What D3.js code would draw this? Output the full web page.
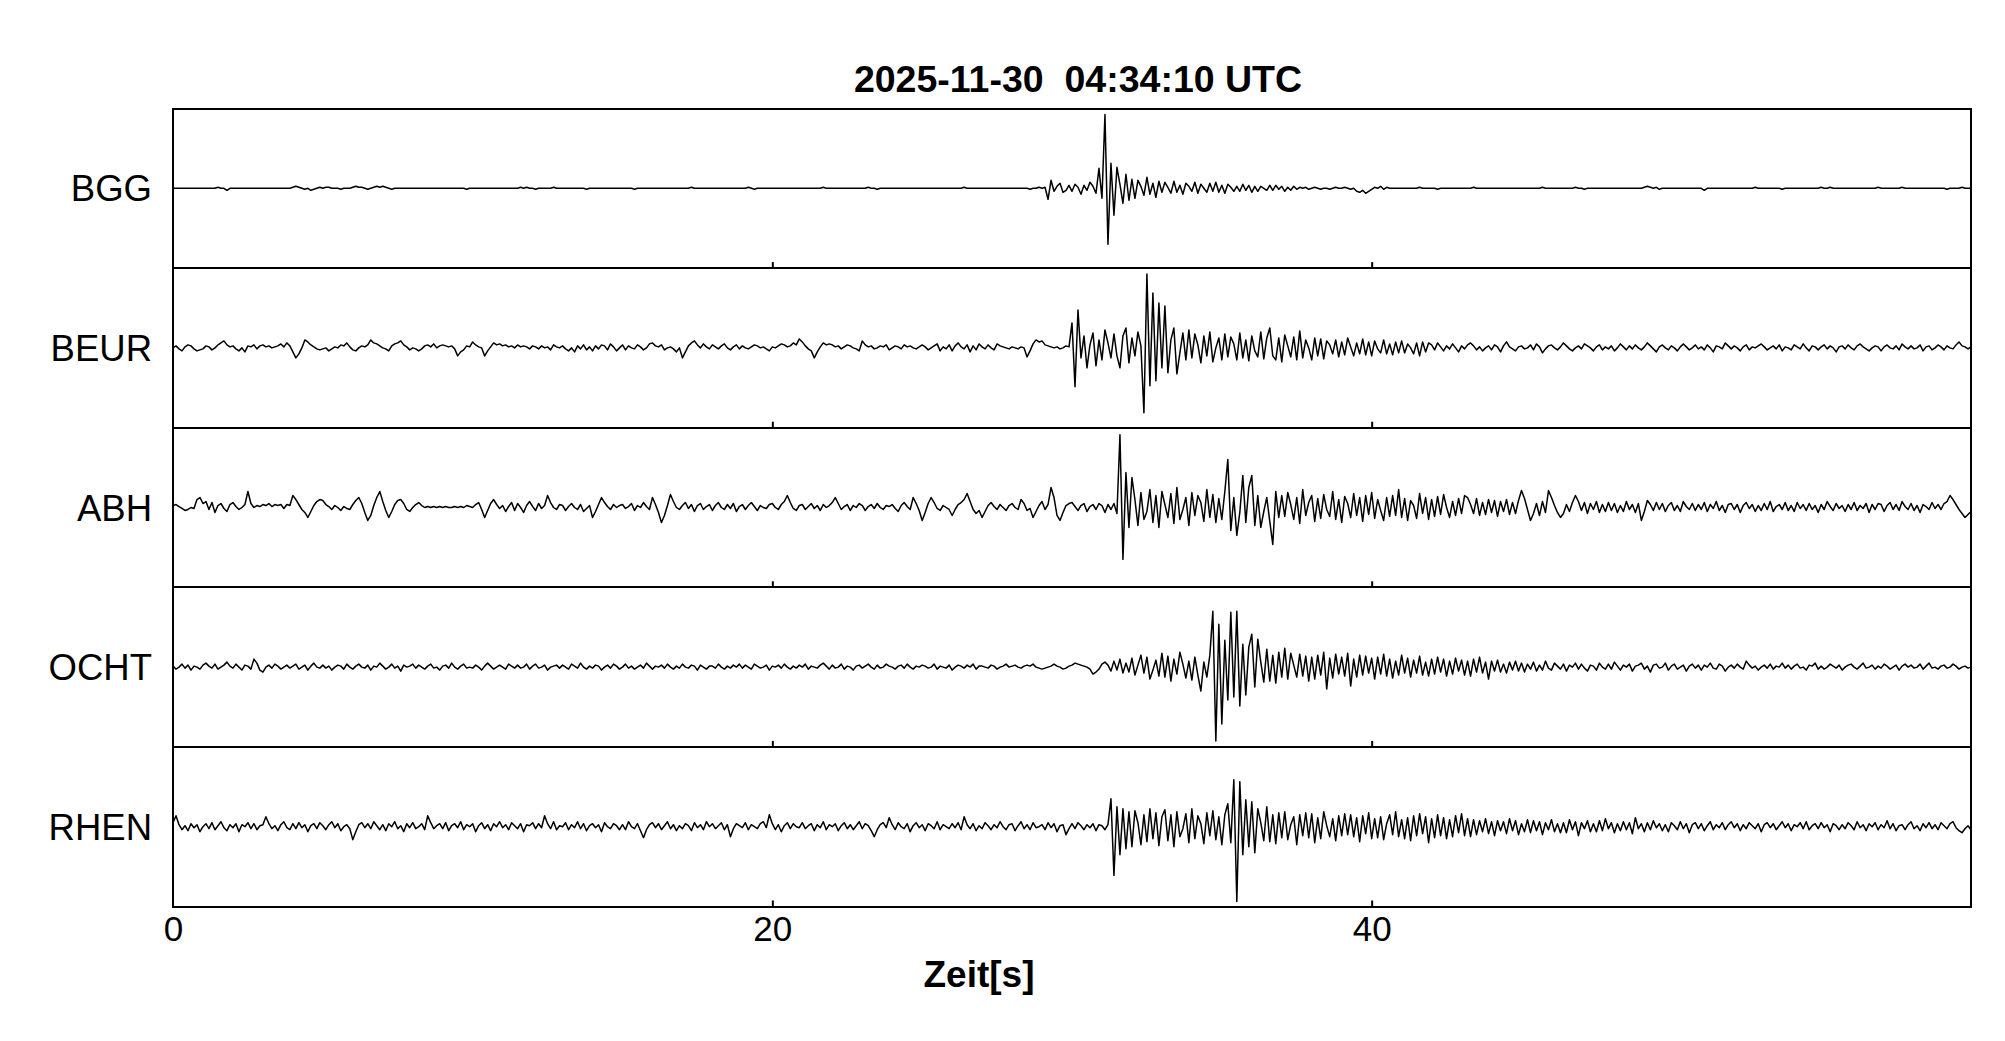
<!DOCTYPE html>
<html>
<head>
<meta charset="utf-8">
<script src="https://cdn.jsdelivr.net/npm/d3@7"></script>
<style>
body { margin: 0; background: #fff; }
text { font-family: "Liberation Sans", Arial, Helvetica, sans-serif; fill: #000; }
</style>
</head>
<body>
<svg id="chart" width="2005" height="1041"></svg>
<script>
// station names, top to bottom
const stations = ["BGG", "BEUR", "ABH", "OCHT", "RHEN"];
const dt = 0.1;            // seconds between samples
const tMax = 60;
const xTicks = [0, 20, 40];
const title = "2025-11-30  04:34:10 UTC";
const xLabel = "Zeit[s]";

// amplitudes, one row = one second
const bgg = [
0,0,0,0,0,0,0,0,0,0,
0,0,0,0,0,1,0,0,-2,0,
0,0,0,0,0,0,0,0,0,0,
0,0,0,0,0,0,0,0,0,0,
1,2,1,0,-1,0,-2,-1,0,1,
0,1,1,0,0,0,-1,0,0,0,
1,2,1,1,0,-1,0,1,2,1,
2,1,0,-1,0,0,0,0,0,0,
0,0,0,0,0,0,0,0,0,0,
0,0,0,0,0,0,0,0,-1,0,
0,0,0,0,0,0,0,0,0,0,
0,0,0,0,0,0,1,0,1,0,
0,-1,0,0,0,0,0,1,0,0,
0,0,0,0,0,0,0,0,-1,0,
0,0,0,0,0,0,0,0,0,0,
0,0,0,0,-1,0,0,0,0,0,
0,0,0,0,0,0,0,0,0,0,
0,0,0,1,0,0,0,0,0,0,
0,0,0,0,0,0,0,0,0,0,
0,0,1,0,-1,0,0,0,0,0,
0,0,0,0,0,0,0,0,0,0,
0,0,0,0,0,0,0,1,0,0,
0,0,0,0,0,0,0,0,0,0,
0,0,1,0,0,-1,0,0,0,0,
0,0,0,0,0,0,0,0,0,0,
0,0,0,0,0,0,0,0,0,0,
0,0,0,0,1,0,0,0,0,0,
0,0,0,0,0,0,0,0,0,0,
0,0,0,0,0,0,-1,0,0,1,
0,1,-11,8,-3,2,5,-4,-2,3,
-3,4,1,-6,3,-2,6,2,-5,20,
-10,74,-56,25,-27,21,4,-15,14,-12,
9,-10,8,2,-7,11,-6,5,-9,7,
-4,6,1,-5,7,-4,3,-6,5,2,
-3,6,-5,4,0,-4,5,-3,6,-4,
3,-5,4,1,-3,2,-3,4,-2,3,
-4,2,-3,2,0,-2,3,-2,3,-1,
2,-3,1,-2,2,-1,1,0,1,-1,
0,1,0,-1,0,0,-1,0,1,0,
0,1,0,-1,0,-3,-4,-2,-5,-3,
-1,1,0,2,-1,1,0,0,0,0,
0,0,0,0,0,0,1,0,0,0,
0,0,-1,0,0,0,0,0,0,0,
0,0,0,0,1,0,0,0,0,0,
0,0,0,0,0,0,0,0,0,0,
0,0,0,0,0,0,0,1,0,0,
0,0,0,0,0,0,0,0,1,0,
0,-1,0,0,0,0,0,0,0,0,
0,0,0,0,0,0,0,0,0,0,
0,1,2,1,0,1,-1,0,0,0,
0,0,0,0,0,0,0,0,0,0,
0,-2,0,0,0,0,0,0,0,0,
0,0,0,0,0,0,0,0,1,0,
0,0,0,0,0,0,0,-1,0,0,
0,0,0,0,0,0,0,0,0,0,
1,0,0,1,0,0,0,0,0,0,
0,0,0,0,0,0,0,0,0,1,
0,0,0,0,0,0,0,1,0,0,
0,0,0,0,0,0,0,0,0,0,
0,0,-1,0,0,0,0,1,0,0,
0];

const beur = [
0,2,-1,-3,1,3,2,-1,-3,-2,
-1,2,1,-2,0,3,5,7,3,1,
2,-1,-3,0,-4,2,1,3,-1,2,
3,1,2,0,1,2,4,1,5,2,
-4,-10,-6,0,8,6,3,1,-1,-2,
-1,0,-3,-1,1,0,3,2,5,1,
-2,-3,0,2,1,3,8,5,4,2,
0,-1,-3,2,4,5,7,3,1,-2,
0,-1,-3,-1,2,3,1,4,0,2,
3,2,1,2,-1,-8,-4,-2,2,1,
6,3,1,0,-8,-3,1,5,3,4,
2,3,1,2,0,3,1,2,1,-1,
2,1,-1,2,0,1,-2,3,1,0,
2,-1,-3,0,-4,2,-1,3,-2,1,
-3,2,-1,3,2,-2,4,1,-3,0,
3,-2,2,0,-1,3,1,-2,0,4,
5,2,1,3,-2,0,1,-1,-4,0,
-10,-4,2,5,7,3,0,4,1,-1,
3,1,-1,2,4,0,-2,1,3,-1,
2,0,-1,1,3,2,0,1,-1,-3,
1,0,2,4,3,1,2,5,3,9,
6,2,-1,-3,-10,-4,1,5,3,4,
3,1,2,-1,1,3,2,0,-1,-3,
7,3,1,2,-1,0,2,1,3,-2,
0,2,1,-1,3,1,2,0,-1,1,
3,1,-2,0,2,4,-3,1,-1,3,
-3,2,5,1,-1,3,-4,2,-2,4,
1,-1,3,0,-2,4,2,1,0,-1,
1,0,-1,1,0,-9,-3,4,8,6,
7,3,2,1,0,1,-1,0,2,1,
25,-39,38,-10,12,-20,3,15,-18,8,
-12,18,5,-10,14,-8,-20,12,20,-15,
10,-8,16,2,-65,74,-38,55,-33,45,
-20,42,-25,8,20,-26,-5,15,-12,18,
-10,14,3,-15,12,-8,16,-14,0,10,
-12,14,-9,11,4,-12,15,-10,8,-13,
12,-3,-9,16,-11,10,20,-8,-12,10,
-14,13,2,-9,11,-12,17,-10,8,0,
-12,10,-8,9,-11,7,3,-6,8,-9,
6,-7,10,1,-8,5,-6,9,-7,6,
-8,7,-1,-5,8,-6,4,-7,6,-5,
7,-5,4,0,-6,5,-8,6,-4,5,
3,-2,5,1,-3,2,-1,4,0,-4,
2,-1,3,5,2,-2,1,-3,0,2,
-2,3,1,-4,2,6,1,-1,-3,1,
2,-1,0,3,-2,4,1,-5,-1,2,
3,0,-2,1,5,2,-1,-3,0,2,
-1,4,2,0,-3,1,3,-2,1,-1,
2,-3,0,4,1,-2,2,-1,3,0,
-2,1,5,2,-1,-4,1,3,0,-2,
2,0,-3,1,4,1,-2,0,3,-1,
1,-2,3,0,-4,2,1,-1,5,2,
-1,2,0,-3,1,3,-2,1,0,2,
4,1,-2,0,2,-1,3,-3,1,0,
-2,3,1,-1,4,0,-3,2,1,-2,
1,3,-1,2,0,-4,1,2,-1,3,
0,-2,2,4,1,-1,-3,0,2,1,
-3,1,3,0,-1,2,-2,4,1,-1,
2,-1,0,3,-3,1,2,-2,0,3,
1,-2,2,0,-1,3,6,2,1,-1,
1];

const abh = [
2,3,1,-1,-3,-2,0,-1,8,10,
4,6,-2,5,-5,2,4,-1,-4,3,
5,1,-2,0,3,16,4,0,2,1,
3,2,4,1,3,2,3,-1,3,2,
12,8,3,-2,-5,-10,-4,2,6,8,
7,3,1,-2,2,0,-3,1,-1,-2,
3,7,10,4,-5,-13,-8,2,10,16,
6,-3,-10,-4,3,7,8,4,-2,-4,
0,3,5,2,0,1,0,1,0,1,
0,1,0,0,1,0,1,0,2,1,
0,3,5,-2,-10,-3,4,8,3,-1,
2,-4,1,5,-3,4,0,-5,2,6,
1,-3,4,-1,2,12,5,0,-2,3,
2,-3,1,4,0,-2,3,-4,-1,2,
-10,-4,3,10,5,1,-2,3,0,2,
3,-1,1,4,-3,2,0,5,1,-2,
10,3,-5,-15,-8,2,13,6,0,-2,
2,5,-1,3,-4,2,4,-2,1,3,
-3,2,5,0,-2,3,-1,4,-4,1,
3,-2,2,5,1,-3,2,0,-1,3,
4,0,-2,3,6,12,5,-1,-3,2,
3,-2,1,4,-1,2,-3,3,0,2,
5,10,4,-2,1,3,-3,2,0,4,
2,-3,1,3,-1,4,0,-2,2,1,
3,-1,-4,2,5,1,-2,10,4,-3,
-13,-5,4,10,5,-1,-3,2,0,-2,
-8,-2,3,5,8,14,6,-2,-6,-3,
-10,-4,2,5,1,-2,3,0,-3,2,
4,0,-2,8,4,-3,-1,-10,-4,2,
6,-2,3,20,10,-8,-13,-5,2,4,
5,1,-3,2,4,-4,1,3,-2,4,
2,-5,3,-2,4,-6,73,-52,35,-20,
30,8,-18,15,-12,-4,18,-15,12,-20,
16,3,-10,14,-16,20,-12,-2,10,-18,
15,-8,12,5,-14,18,-10,13,-15,9,
-12,16,48,-23,10,-28,-5,32,-15,20,
32,-18,12,-20,-4,10,-14,-37,16,-10,
12,-9,15,3,-12,10,-16,18,-8,5,
12,-14,9,-11,13,-2,-9,16,-12,8,
-15,11,4,-10,14,-8,10,-14,12,-7,
15,-11,8,-3,-13,10,-9,12,-8,18,
-10,9,-13,7,2,-11,14,-6,10,-12,
8,-9,11,-7,13,0,-10,6,-8,9,
-6,12,10,3,-6,9,-8,5,-7,8,
-5,7,-9,6,-4,8,-7,5,-6,7,
17,9,-2,-13,-6,4,-8,6,-5,17,
10,2,-5,-10,-6,3,-4,5,12,6,
-3,5,-6,4,-2,6,-5,3,-4,5,
-3,4,-5,2,-4,6,-2,3,-5,4,
-13,-4,7,3,-3,5,-2,4,-4,2,
5,-3,2,-4,6,1,-2,4,-3,3,
-2,5,-4,3,-1,6,-3,2,-5,3,
4,-2,3,-5,2,5,-1,3,-4,2,
-3,4,-2,6,-4,1,3,-2,5,-3,
2,-4,5,-1,3,-3,4,-2,2,-5,
3,-2,6,1,-3,4,-1,2,-4,3,
-2,5,-3,2,-1,4,-5,3,-2,4,
3,-4,2,5,-2,3,-3,6,1,-2,
4,-3,2,-5,3,1,-2,5,-1,3,
-2,4,6,12,8,3,-2,-6,-10,-7,
-4];

const ocht = [
1,-2,0,3,-1,2,-3,1,0,-2,
2,4,1,-1,3,-2,0,2,5,1,
-1,3,0,-3,2,1,-2,8,4,-3,
-5,0,2,-1,3,1,-2,0,2,-1,
1,3,-2,0,2,-3,1,4,0,-1,
2,-1,1,-3,0,2,1,-2,3,0,
-2,1,3,0,-1,2,-3,1,0,4,
1,-2,0,3,-1,1,-4,2,0,1,
3,-1,2,0,-2,1,3,-1,0,-3,
1,2,-1,4,0,-2,1,3,-1,0,
-1,2,0,-3,1,4,1,-2,0,2,
0,-2,3,1,-1,2,-1,0,3,-2,
1,3,-1,0,2,-3,0,1,2,-1,
2,0,-2,3,1,-1,4,0,-2,1,
-1,2,1,-3,0,2,-1,3,1,-2,
0,3,-1,1,-2,0,2,-1,4,1,
-2,1,0,2,-1,3,0,-2,1,-1,
3,0,-1,2,1,-3,2,0,-2,1,
1,-1,3,0,-2,1,-1,2,0,3,
-1,2,0,-2,3,1,-1,0,2,-3,
1,0,2,-1,3,0,-2,1,-1,2,
0,3,-2,1,0,-1,2,4,1,-2,
2,-1,0,3,-2,1,0,-3,1,2,
-1,1,3,0,-2,2,-1,0,3,1,
0,-2,1,2,-1,3,0,-2,1,0,
2,1,-1,0,3,-2,1,0,-1,2,
-3,0,2,1,-1,2,0,3,-2,1,
1,0,-1,2,1,-2,0,1,3,0,
1,2,0,-1,1,2,1,3,0,-1,
-2,-1,0,1,3,1,0,-2,-1,1,
2,4,3,2,1,0,-2,-7,-5,-2,
3,5,2,-4,6,-3,8,-6,4,-5,
9,-8,2,12,-6,10,-12,-3,7,-9,
14,-10,11,-14,8,-7,15,3,-11,6,
-13,10,-8,-24,5,-10,12,56,-74,43,
-57,27,-33,55,-30,56,-39,23,-28,20,
33,-20,28,5,-15,18,-14,12,-16,15,
-10,19,-12,14,2,-10,13,-9,11,-14,
10,-12,12,-8,15,-22,9,-11,13,-7,
10,-9,14,-19,8,-10,12,-8,11,-6,
9,-12,10,-7,13,-9,8,-11,6,-8,
12,-6,9,-10,7,-6,11,-8,5,-9,
8,-7,10,-5,8,-9,6,-7,9,-4,
7,-8,6,-9,8,-5,10,-6,5,-12,
6,-4,7,-5,3,-6,5,-3,6,-4,
4,-5,3,-2,5,-4,2,-3,6,-1,
-3,4,1,-2,3,-4,2,0,4,-2,
3,-1,-4,2,1,-3,4,0,-2,3,
-2,5,1,-3,2,0,3,-4,1,2,
4,-2,1,-5,2,3,-1,0,4,-3,
1,3,-2,0,2,-4,1,3,-1,2,
-3,2,0,4,-1,-2,3,1,-4,0,
2,-1,3,0,-2,6,2,-1,1,-3,
0,2,-1,3,-2,1,0,4,-1,2,
-2,1,3,-1,0,-3,2,1,4,-2,
1,-2,0,3,1,-1,2,-3,0,2,
3,0,-2,1,4,-1,0,2,-2,1,
-1,3,1,-2,0,2,-3,1,3,0,
2,-1,0,3,-2,1,4,-1,0,-2,
1,2,-1,0,3,1,-2,0,1,-1,
0];

const rhen = [
4,11,2,-3,1,-4,3,-1,2,-5,
0,3,-2,4,-3,1,5,-1,-4,2,
-1,3,-5,2,0,4,-2,3,-3,1,
2,10,3,-2,1,-4,2,5,-1,-3,
3,-2,4,-1,2,-5,1,3,-2,4,
1,-3,2,5,-1,3,-4,0,2,-2,
-13,-5,2,4,-1,3,-2,5,1,-3,
2,-4,3,0,5,-2,1,-5,3,-1,
4,-2,0,3,-3,11,4,-2,1,3,
-2,4,-4,1,3,-1,5,-3,2,0,
3,-5,1,4,-2,2,-4,3,0,5,
-1,2,-3,4,1,-2,3,-5,2,1,
4,-2,3,-1,11,3,-2,5,-3,1,
0,4,-3,2,-1,5,-2,3,-4,1,
3,-1,2,-5,4,0,-2,3,1,-3,
2,-3,5,0,-2,3,-4,-11,-3,2,
4,-1,3,-3,1,5,-2,2,-4,1,
-2,3,1,-4,4,-1,2,-3,5,0,
3,-2,1,4,-3,2,-10,-2,3,1,
-1,4,-3,2,0,-2,3,5,-1,12,
3,-3,2,-5,1,4,-2,3,0,-1,
4,-2,1,3,-4,2,-1,5,-3,2,
0,3,-4,1,4,-2,2,-3,1,5,
-2,3,1,-4,-10,-3,2,4,-1,9,
2,-3,4,0,-2,3,-5,1,4,-1,
2,-4,3,1,-2,5,-3,2,0,-2,
3,-1,4,-3,10,2,-2,3,-4,1,
-2,4,1,-3,2,-1,5,0,-3,2,
3,-4,1,5,-2,2,-3,4,-1,0,
2,-3,4,-1,3,-5,1,2,-8,-2,
3,-2,4,1,-3,2,-1,3,-4,2,
1,-3,2,28,-49,20,-28,18,-22,15,
-20,16,4,-18,12,-15,18,-12,14,-19,
10,17,-14,12,-20,15,-10,-2,13,-16,
18,-12,11,3,-17,14,-9,16,-13,10,
-18,12,23,-16,47,-75,45,-28,27,-20,
25,-26,18,4,-14,20,-15,12,-17,14,
-11,15,-13,2,10,-18,12,-9,14,-11,
13,-16,9,-12,15,1,-10,8,-14,11,
-9,13,-8,12,-10,9,-15,11,-7,14,
-12,8,-11,10,-13,3,12,-8,15,-10,
7,-12,9,-14,11,-9,13,-7,10,-16,
8,-11,12,-9,9,-12,7,-10,11,-6,
13,-9,8,-10,7,-8,6,-5,8,-7,
5,-9,6,-4,5,-7,8,-4,6,-8,
3,-5,7,-6,6,-4,5,-8,4,-3,
7,-5,3,-6,4,-6,7,-3,5,-9,
4,-2,6,-5,3,-5,6,-4,8,-2,
4,-6,3,-4,5,-3,4,-7,9,-2,
3,-5,4,-3,6,-1,3,-4,2,-5,
4,1,-3,5,-2,3,-6,2,4,-2,
3,-4,1,5,-3,2,-1,4,-3,2,
5,-1,3,-4,2,-2,4,1,-2,3,
-5,2,4,-1,3,-3,1,5,-1,3,
-4,2,0,4,-2,5,-3,1,3,-2,
4,-1,2,-5,3,1,-3,2,-2,4,
1,-3,5,-1,2,-4,3,0,4,-3,
2,-1,6,-2,3,-4,1,2,-3,2,
5,-2,1,-4,3,-1,4,-2,2,-3,
4,1,-2,3,5,-1,-4,-6,-2,1,
-3];

const traces = { BGG: bgg, BEUR: beur, ABH: abh, OCHT: ocht, RHEN: rhen };

const svg = d3.select("#chart");
const plotLeft = 173, plotRight = 1971, plotTop = 108.5, plotBottom = 906.5;

const x = d3.scaleLinear().domain([0, tMax]).range([plotLeft, plotRight]);
const band = d3.scaleBand().domain(stations).range([plotTop, plotBottom]);
const h = band.bandwidth();

function drawPanel(name) {
    let y0 = band(name);
    let y = d3.scaleLinear().domain([-80, 80]).range([y0 + h, y0]);
    let line = d3.line()
        .x((d, i) => x(i * dt))
        .y(d => y(d));
    svg.append("path")
        .datum(traces[name])
        .attr("d", line)
        .style("fill", "none")
        .style("stroke", "black")
        .style("stroke-width", 1.5)
        .style("stroke-linejoin", "round");

    // small inward ticks on the lower edge
    let ax = svg.append("g")
        .attr("transform", "translate(0," + (y0 + h) + ")")
        .call(d3.axisBottom(x).tickValues(xTicks.slice(1)).tickSize(-6).tickFormat(""));
    ax.select(".domain").remove();
    ax.selectAll("line").style("stroke", "black").style("stroke-width", 2);

    svg.append("rect")
        .attr("x", plotLeft)
        .attr("y", y0)
        .attr("width", plotRight - plotLeft)
        .attr("height", h)
        .style("fill", "none")
        .style("stroke", "black")
        .style("stroke-width", 2)
        .style("shape-rendering", "crispEdges");

    svg.append("text")
        .attr("x", 152)
        .attr("y", y0 + h / 2 + 13)
        .attr("text-anchor", "end")
        .style("font-size", "36.5px")
        .text(name);
}

stations.forEach(drawPanel);

// time labels under the last panel
let xa = svg.append("g")
    .attr("transform", "translate(0," + plotBottom + ")")
    .call(d3.axisBottom(x).tickValues(xTicks).tickSize(0).tickPadding(10));
xa.select(".domain").remove();
xa.selectAll("text")
    .style("font-size", "35px")
    .style("font-family", "'Liberation Sans', Arial, sans-serif")
    .attr("fill", "black");

svg.append("text")
    .attr("x", 1078)
    .attr("y", 92)
    .attr("text-anchor", "middle")
    .style("font-size", "37.5px")
    .style("font-weight", "bold")
    .style("white-space", "pre")
    .text(title);

svg.append("text")
    .attr("x", 979)
    .attr("y", 987)
    .attr("text-anchor", "middle")
    .style("font-size", "37px")
    .style("font-weight", "bold")
    .text(xLabel);
</script>
</body>
</html>
